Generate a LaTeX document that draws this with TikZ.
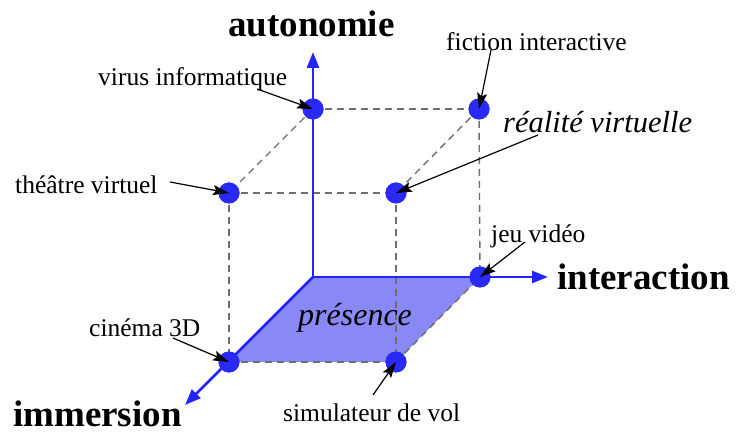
\documentclass[tikz,border=0pt]{standalone}
\usepackage{fontspec}
\setmainfont{Liberation Serif}
\usetikzlibrary{arrows.meta}
\definecolor{axisblue}{HTML}{2424FF}
\definecolor{dotblue}{HTML}{2A2AF8}
\definecolor{planefill}{HTML}{8888F6}
\definecolor{dashgray}{HTML}{6E6E6E}
\tikzset{
  dot/.style={circle, fill=dotblue, inner sep=0pt, minimum size=21pt},
  axis/.style={draw=axisblue, line width=2.8pt, -{Triangle[length=16pt,width=12pt]}},
  cube/.style={draw=dashgray, line width=1.4pt, dash pattern=on 7pt off 5pt},
  pointer/.style={draw=black, line width=1.2pt, -{Stealth[length=16pt,width=10pt,inset=3pt]}},
  lbl/.style={inner sep=0pt, anchor=base west, font=\fontsize{25.5}{28}\selectfont},
  big/.style={inner sep=0pt, anchor=base west, font=\fontsize{37}{40}\selectfont\bfseries},
  ital/.style={inner sep=0pt, anchor=base west, font=\fontsize{30.5}{33}\selectfont\itshape}
}
\begin{document}
\begin{tikzpicture}[x=1pt,y=-1pt]
\useasboundingbox (0,0) rectangle (736,435);
% corner coordinates
\coordinate (O) at (313,277);
\coordinate (az) at (313,52);
\coordinate (ix) at (548,277);
\coordinate (im) at (185,405);
% presence plane
\fill[planefill] (313,277) -- (480,277) -- (396,362) -- (229,362) -- cycle;
% dots
\node[dot] (v) at (313,109) {};
\node[dot] (f) at (479,109) {};
\node[dot] (t) at (229,193) {};
\node[dot] (r) at (396,193) {};
\node[dot] (j) at (480,277) {};
\node[dot] (c) at (229,362) {};
\node[dot] (s) at (396,362) {};
% dashed cube edges
\draw[cube] (v.center) -- (f.center);
\draw[cube] (v.center) -- (t.center);
\draw[cube] (f.center) -- (r.center);
\draw[cube] (t.center) -- (r.center);
\draw[cube] (t.center) -- (c.center);
\draw[cube] (r.center) -- (s.center);
\draw[cube] (f.center) -- (j.center);
\draw[cube] (c.center) -- (s.center);
\draw[cube] (s.center) -- (j.center);
% axes
\draw[axis] (O) -- (az);
\draw[axis] (O) -- (ix);
\draw[axis] (O) -- (im);
% redraw dots over axes
\foreach \p in {v,f,t,r,j,c,s} \fill[dotblue] (\p.center) circle (10.5pt);
% axis labels
\node[big] (la) at (228,37) {autonomie};
\node[big] (li) at (557,290) {interaction};
\node[big] (lm) at (13,426) {immersion};
% point labels
\node[lbl] (lv) at (98,86) {virus informatique};
\node[lbl] (lt) at (15,194) {théâtre virtuel};
\node[lbl] (lf) at (446,51) {fiction interactive};
\node[ital] (lr) at (503,133) {réalité virtuelle};
\node[lbl] (lj) at (491,243) {jeu vidéo};
\node[lbl] (lc) at (89,337) {cinéma 3D};
\node[lbl] (ls) at (283,421) {simulateur de vol};
\node[ital, font=\fontsize{32}{34}\selectfont\itshape] (lp) at (298,326) {présence};
% pointer tails
\coordinate (tv) at (257,89);
\coordinate (tt) at (170,182);
\coordinate (tf) at (491,50);
\coordinate (tr) at (538,135);
\coordinate (tj) at (525,242);
\coordinate (tc) at (173,338);
\coordinate (ts) at (373,395);
\draw[pointer] (tv) -- (v.center);
\draw[pointer] (tt) -- (t.center);
\draw[pointer] (tf) -- (f.center);
\draw[pointer] (tr) -- (r.center);
\draw[pointer] (tj) -- (j.center);
\draw[pointer] (tc) -- (c.center);
\draw[pointer] (ts) -- (s.center);
\end{tikzpicture}
\end{document}
